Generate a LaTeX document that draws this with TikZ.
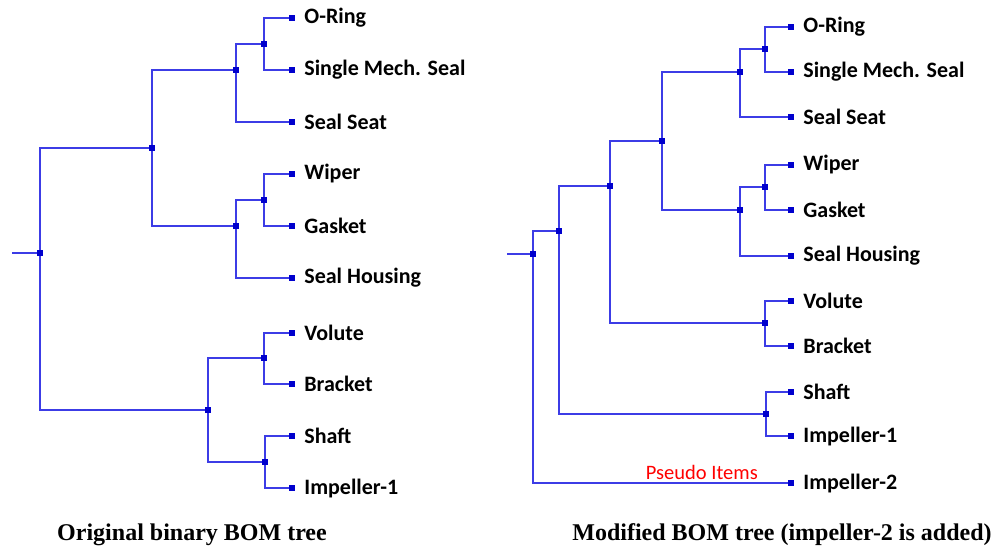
\documentclass[tikz,border=0pt]{standalone}
\usepackage{fontspec}
\setmainfont{Liberation Serif}
\newfontfamily\calib{Carlito}
\usetikzlibrary{positioning, backgrounds}
\definecolor{linecol}{RGB}{60,60,230}
\definecolor{sqblue}{RGB}{0,0,205}

\begin{document}
\begin{tikzpicture}[x=1pt, y=-1pt,
    junc/.style={fill=sqblue, inner sep=0pt, minimum size=6.5pt},
    leaf/.style={fill=sqblue, inner sep=0pt, minimum size=6pt},
    item/.style={font=\calib\bfseries\fontsize{22}{25}\selectfont, inner sep=0pt, anchor=west, xshift=9pt},
    wire/.style={draw=linecol, line width=1.2pt},
    caption/.style={font=\bfseries\fontsize{24}{27}\selectfont}]
\useasboundingbox (0,0) rectangle (995,550);

% original tree
\coordinate (lstub) at (12,253);
\node[junc] (lroot) at (40,253) {};
\node[junc] (la) at (152,148) {};
\node[junc] (la1) at (236,70) {};
\node[junc] (la11) at (264,44) {};
\node[junc] (la2) at (236,226) {};
\node[junc] (la21) at (264,200) {};
\node[junc] (lb) at (208,410) {};
\node[junc] (lb1) at (264,358) {};
\node[junc] (lb2) at (265,462) {};
\node[leaf, label={[item]right:O-Ring}] (loring) at (292,18) {};
\node[leaf, label={[item]right:Single Mech. Seal}] (lmech) at (292,70) {};
\node[leaf, label={[item]right:Seal Seat}] (lseat) at (292,122) {};
\node[leaf, label={[item]right:Wiper}] (lwiper) at (292,174) {};
\node[leaf, label={[item]right:Gasket}] (lgasket) at (292,226) {};
\node[leaf, label={[item]right:Seal Housing}] (lhousing) at (292,278) {};
\node[leaf, label={[item]right:Volute}] (lvolute) at (292,333) {};
\node[leaf, label={[item]right:Bracket}] (lbracket) at (292,384) {};
\node[leaf, label={[item]right:Shaft}] (lshaft) at (292,436) {};
\node[leaf, label={[item]right:Impeller-1}] (limp) at (292,488) {};

% modified tree
\coordinate (rstub) at (507,254);
\node[junc] (rroot) at (533,254) {};
\node[junc] (r1) at (559,231) {};
\node[junc] (r2) at (610,186) {};
\node[junc] (r3) at (662,141) {};
\node[junc] (r31) at (740,72) {};
\node[junc] (r311) at (765,49) {};
\node[junc] (r32) at (740,210) {};
\node[junc] (r321) at (765,187) {};
\node[junc] (r4) at (765,323) {};
\node[junc] (r5) at (766,414) {};
\node[leaf, label={[item]right:O-Ring}] (roring) at (791,27) {};
\node[leaf, label={[item]right:Single Mech. Seal}] (rmech) at (791,72) {};
\node[leaf, label={[item]right:Seal Seat}] (rseat) at (791,117) {};
\node[leaf, label={[item]right:Wiper}] (rwiper) at (791,165) {};
\node[leaf, label={[item]right:Gasket}] (rgasket) at (791,210) {};
\node[leaf, label={[item]right:Seal Housing}] (rhousing) at (791,256) {};
\node[leaf, label={[item]right:Volute}] (rvolute) at (791,301) {};
\node[leaf, label={[item]right:Bracket}] (rbracket) at (791,346) {};
\node[leaf, label={[item]right:Shaft}] (rshaft) at (791,392) {};
\node[leaf, label={[item]right:Impeller-1}] (rimp1) at (791,436) {};
\node[leaf, label={[item]right:Impeller-2}] (rimp2) at (791,483) {};
\node[text=red, font=\calib\fontsize{20.5}{23}\selectfont, anchor=south east, inner sep=0pt] (pseudo) at (758,480) {Pseudo Items};

\begin{scope}[on background layer]
\draw[wire]
    (lstub) -- (lroot)
    (lroot) |- (la)  (lroot) |- (lb)
    (la) |- (la1)  (la) |- (la2)
    (la1) |- (la11)  (la1) |- (lseat)
    (la11) |- (loring)  (la11) |- (lmech)
    (la2) |- (la21)  (la2) |- (lhousing)
    (la21) |- (lwiper)  (la21) |- (lgasket)
    (lb) |- (lb1)  (lb) |- (lb2)
    (lb1) |- (lvolute)  (lb1) |- (lbracket)
    (lb2) |- (lshaft)  (lb2) |- (limp);
\draw[wire]
    (rstub) -- (rroot)
    (rroot) |- (r1)  (rroot) |- (rimp2)
    (r1) |- (r2)  (r1) |- (r5)
    (r2) |- (r3)  (r2) |- (r4)
    (r3) |- (r31)  (r3) |- (r32)
    (r31) |- (r311)  (r31) |- (rseat)
    (r311) |- (roring)  (r311) |- (rmech)
    (r32) |- (r321)  (r32) |- (rhousing)
    (r321) |- (rwiper)  (r321) |- (rgasket)
    (r4) |- (rvolute)  (r4) |- (rbracket)
    (r5) |- (rshaft)  (r5) |- (rimp1);
\end{scope}

\node[caption] (lcap) at (192,535) {Original binary BOM tree};
\node[caption] (rcap) at (782,535) {Modified BOM tree (impeller-2 is added)};
\end{tikzpicture}
\end{document}
